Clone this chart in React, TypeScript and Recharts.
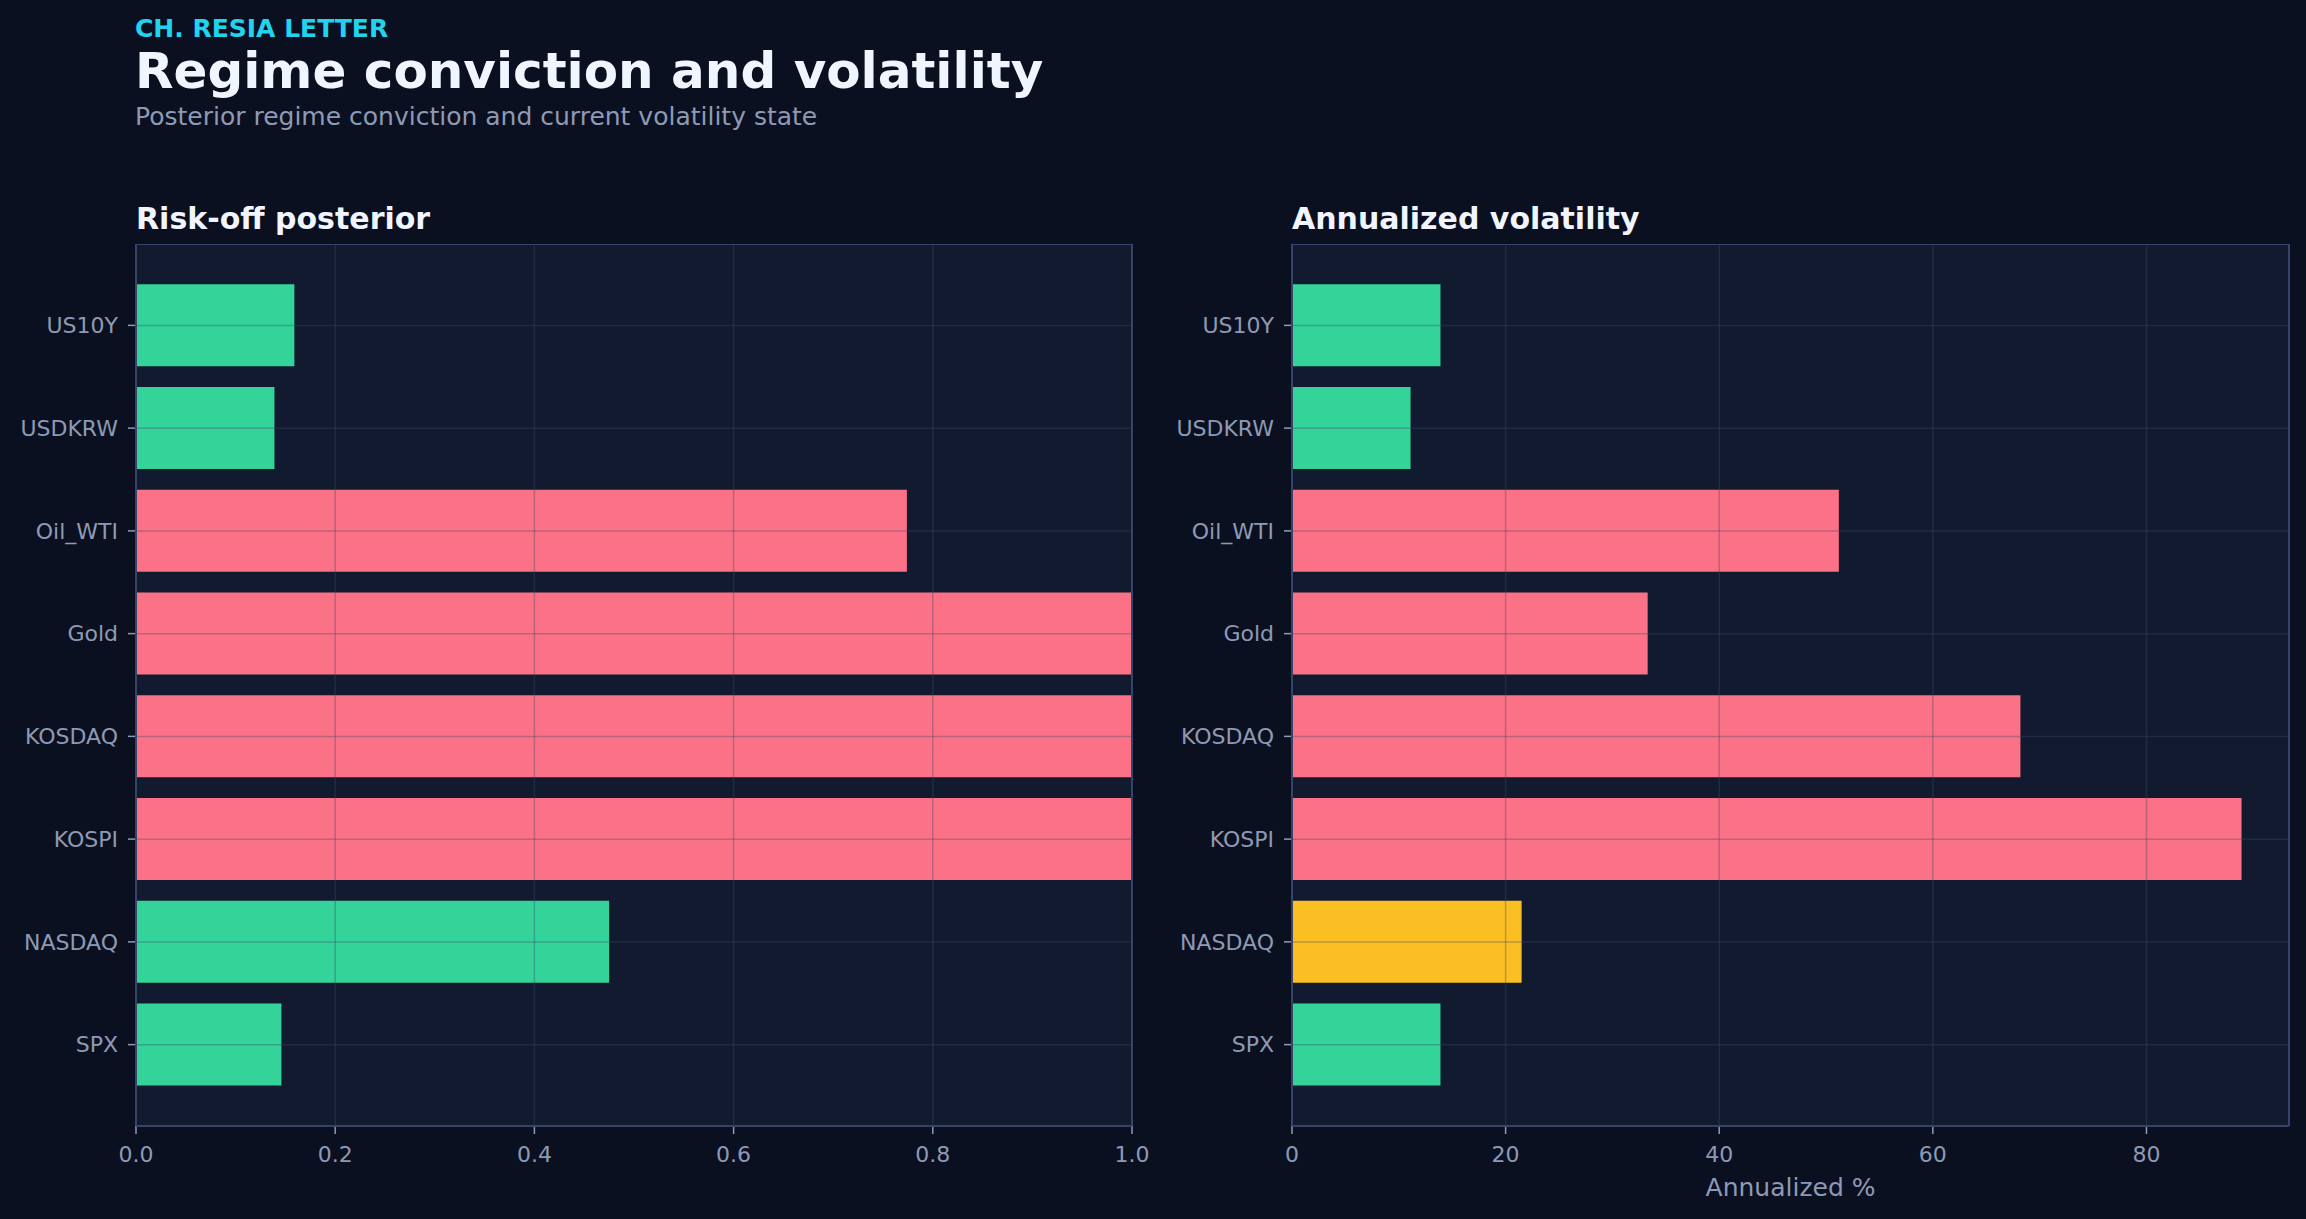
import React from 'react';
import {
  BarChart,
  Bar,
  Cell,
  XAxis,
  YAxis,
  CartesianGrid,
} from 'recharts';

// assets, bottom to top as drawn
const categories = ['SPX', 'NASDAQ', 'KOSPI', 'KOSDAQ', 'Gold', 'Oil_WTI', 'USDKRW', 'US10Y'];
const riskOffPosterior = [0.146, 0.475, 1.0, 1.0, 1.0, 0.774, 0.139, 0.159];
const regimeState = ['risk-on', 'risk-on', 'risk-off', 'risk-off', 'risk-off', 'risk-off', 'risk-on', 'risk-on'];
const annualizedVol = [13.9, 21.5, 88.9, 68.2, 33.3, 51.2, 11.1, 13.9];
const volState = ['low', 'mid', 'high', 'high', 'high', 'high', 'low', 'low'];
const posteriorTicks = [0, 0.2, 0.4, 0.6, 0.8, 1.0];
const volTicks = [0, 20, 40, 60, 80];

const FONT = 'DejaVu Sans';
const BG = '#0b1020';
const PANEL = '#121a2f';
const SPINE = '#36436a';
const MUTED = '#8e9ab5';
const TEXT = '#f1f5ff';

const stateColor: Record<string, string> = {
  'risk-on': '#34d399',
  'risk-off': '#fb7185',
  low: '#34d399',
  mid: '#fbbf24',
  high: '#fb7185',
};

interface PanelProps {
  values: number[];
  states: string[];
  domain: [number, number];
  ticks: number[];
  fmt: (v: number) => string;
  left: number;
  width: number;
  yAxisWidth: number;
  rightMargin: number;
  xLabel?: string;
}

// frame lines along the edges of the plot area
const frameX = ({ offset }: any) => [offset.left, offset.left + offset.width];
const frameY = ({ offset }: any) => [offset.top, offset.top + offset.height];

function Panel({ values, states, domain, ticks, fmt, left, width, yAxisWidth, rightMargin, xLabel }: PanelProps) {
  const data = categories.map((name, i) => ({ name, value: values[i], state: states[i] }));
  return (
    <div style={{ position: 'absolute', left, top: 244 }}>
      <BarChart
        width={width}
        height={975}
        data={data}
        layout="vertical"
        margin={{ top: 0, right: rightMargin, bottom: 0, left: 0 }}
        barCategoryGap="10%"
      >
        <CartesianGrid fill={PANEL} horizontal={false} vertical={false} stroke="none" />
        <XAxis
          type="number"
          domain={domain}
          ticks={ticks}
          tickFormatter={fmt}
          height={93}
          axisLine={false}
          tickSize={8}
          tickMargin={12}
          tickLine={{ stroke: MUTED, strokeWidth: 1.5 }}
          tick={{ fill: MUTED, fontSize: 22, fontFamily: FONT }}
          label={
            xLabel
              ? { value: xLabel, position: 'insideBottom', offset: 23, fill: MUTED, fontSize: 25, fontFamily: FONT }
              : undefined
          }
        />
        <YAxis
          type="category"
          dataKey="name"
          reversed
          width={yAxisWidth}
          padding={{ top: 30, bottom: 30 }}
          axisLine={false}
          tickSize={8}
          tickMargin={10}
          tickLine={{ stroke: MUTED, strokeWidth: 1.5 }}
          tick={{ fill: MUTED, fontSize: 22, fontFamily: FONT }}
        />
        <Bar dataKey="value" isAnimationActive={false}>
          {data.map((d) => (
            <Cell key={d.name} fill={stateColor[d.state]} />
          ))}
        </Bar>
        <CartesianGrid
          stroke="#3b4a6b"
          strokeOpacity={0.35}
          strokeWidth={1.5}
          fill="none"
          zIndex={1000}
        />
        <CartesianGrid
          stroke={SPINE}
          strokeWidth={2}
          fill="none"
          verticalCoordinatesGenerator={frameX}
          horizontalCoordinatesGenerator={frameY}
          zIndex={1100}
        />
      </BarChart>
    </div>
  );
}

export default function App() {
  const volMax = Math.max(...annualizedVol) * 1.05;
  return (
    <div
      style={{
        position: 'fixed',
        left: 0,
        top: 0,
        width: 2306,
        height: 1219,
        background: BG,
        overflow: 'hidden',
        fontFamily: FONT,
      }}
    >
      <Panel
        values={riskOffPosterior}
        states={regimeState}
        domain={[0, 1]}
        ticks={posteriorTicks}
        fmt={(v) => v.toFixed(1)}
        left={0}
        width={1160}
        yAxisWidth={136}
        rightMargin={28}
      />
      <Panel
        values={annualizedVol}
        states={volState}
        domain={[0, volMax]}
        ticks={volTicks}
        fmt={(v) => String(v)}
        left={1160}
        width={1146}
        yAxisWidth={132}
        rightMargin={17}
        xLabel="Annualized %"
      />
      <svg
        width={2306}
        height={1219}
        style={{ position: 'absolute', left: 0, top: 0, pointerEvents: 'none' }}
        fontFamily={FONT}
      >
        <text x={135} y={37} fill="#22d3ee" fontSize={25} fontWeight="bold">
          CH. RESIA LETTER
        </text>
        <text x={135} y={88} fill={TEXT} fontSize={50} fontWeight="bold">
          Regime conviction and volatility
        </text>
        <text x={135} y={125} fill={MUTED} fontSize={25}>
          Posterior regime conviction and current volatility state
        </text>
        <text x={136} y={229} fill={TEXT} fontSize={30} fontWeight="bold">
          Risk-off posterior
        </text>
        <text x={1292} y={229} fill={TEXT} fontSize={30} fontWeight="bold">
          Annualized volatility
        </text>
      </svg>
    </div>
  );
}
